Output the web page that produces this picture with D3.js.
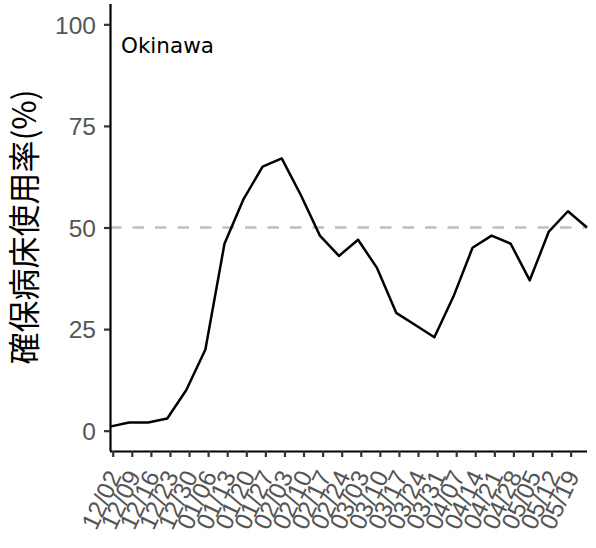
<!DOCTYPE html>
<html>
<head>
<meta charset="utf-8">
<script src="https://cdn.jsdelivr.net/npm/d3@7"></script>
<style>
  html, body { margin: 0; padding: 0; background: #fff; }
</style>
</head>
<body>
<div id="chart"></div>
<script>
// ---- data ----
const dates = ["2020-12-01","2020-12-08","2020-12-15","2020-12-22","2020-12-29",
  "2021-01-05","2021-01-12","2021-01-19","2021-01-26","2021-02-02","2021-02-09",
  "2021-02-16","2021-02-23","2021-03-02","2021-03-09","2021-03-16","2021-03-23",
  "2021-03-30","2021-04-06","2021-04-13","2021-04-20","2021-04-27","2021-05-04",
  "2021-05-11","2021-05-18","2021-05-25"];
const values = [1, 2, 2, 3, 10, 20, 46, 57, 65, 67, 58, 48, 43, 47, 40, 29, 26, 23, 33, 45, 48, 46, 37, 49, 54, 50];
const tickDates = ["2020-12-02","2020-12-09","2020-12-16","2020-12-23","2020-12-30",
  "2021-01-06","2021-01-13","2021-01-20","2021-01-27","2021-02-03","2021-02-10",
  "2021-02-17","2021-02-24","2021-03-03","2021-03-10","2021-03-17","2021-03-24",
  "2021-03-31","2021-04-07","2021-04-14","2021-04-21","2021-04-28","2021-05-05",
  "2021-05-12","2021-05-19"];
const yTicks = [0, 25, 50, 75, 100];
const refLine = 50;
const panelLabel = "Okinawa";
const yTitle = "確保病床使用率(%)";

// ---- layout ----
const W = 596, H = 548;
const mLeft = 110, mRight = 587, mTop = 4, mBottom = 451;
const parse = d3.utcParse("%Y-%m-%d");
const fmt = d3.utcFormat("%m/%d");

const svg = d3.select("#chart").append("svg")
  .attr("width", W).attr("height", H)
  .style("font-family", "'DejaVu Sans', sans-serif");

const x = d3.scaleUtc()
  .domain([parse(dates[0]), parse(dates[dates.length - 1])])
  .range([mLeft, mRight]);
const y = d3.scaleLinear().domain([-5, 105]).range([mBottom, mTop]);

// reference line
svg.append("line")
  .attr("x1", mLeft).attr("x2", mRight)
  .attr("y1", y(refLine)).attr("y2", y(refLine))
  .attr("stroke", "#bebebe").attr("stroke-width", 2.5)
  .attr("stroke-dasharray", "11.5,11");

// data line
const data = dates.map((d, i) => ({ date: parse(d), v: values[i] }));
svg.append("path")
  .datum(data)
  .attr("fill", "none").attr("stroke", "#000").attr("stroke-width", 2.5)
  .attr("stroke-linejoin", "round")
  .attr("d", d3.line().x(d => x(d.date)).y(d => y(d.v)));

// y axis
const yAxis = svg.append("g").attr("transform", `translate(${mLeft},0)`)
  .call(d3.axisLeft(y).tickValues(yTicks).tickSize(6).tickPadding(8));
yAxis.select(".domain").attr("stroke", "#000").attr("stroke-width", 2.2)
  .attr("d", `M0.5,${mTop}V${mBottom}`);
yAxis.selectAll(".tick line").attr("stroke", "#333").attr("stroke-width", 2.2);
yAxis.selectAll(".tick text").attr("fill", "#555").style("font-size", "24.5px")
  .attr("dy", "0.36em");

// x axis
const xAxis = svg.append("g").attr("transform", `translate(0,${mBottom})`)
  .call(d3.axisBottom(x).tickValues(tickDates.map(parse)).tickFormat(fmt).tickSize(6));
xAxis.select(".domain").attr("stroke", "#000").attr("stroke-width", 2.2)
  .attr("d", `M${mLeft},0.5H${mRight}`);
xAxis.selectAll(".tick line").attr("stroke", "#333").attr("stroke-width", 2.2);
xAxis.selectAll(".tick text")
  .attr("fill", "#555").style("font-size", "24.5px")
  .attr("text-anchor", "end")
  .attr("dy", null).attr("y", null)
  .attr("transform", "translate(3,22) rotate(-65)")
  .attr("dominant-baseline", "middle");

// panel label
svg.append("text")
  .attr("x", 121).attr("y", 53)
  .attr("fill", "#000").style("font-size", "21.5px")
  .text(panelLabel);

// y title
svg.append("text")
  .attr("transform", `translate(36,227) rotate(-90)`)
  .attr("text-anchor", "middle")
  .style("font-family", "'Noto Sans CJK JP', sans-serif")
  .style("font-size", "32px")
  .attr("fill", "#000")
  .text(yTitle);
</script>
</body>
</html>
